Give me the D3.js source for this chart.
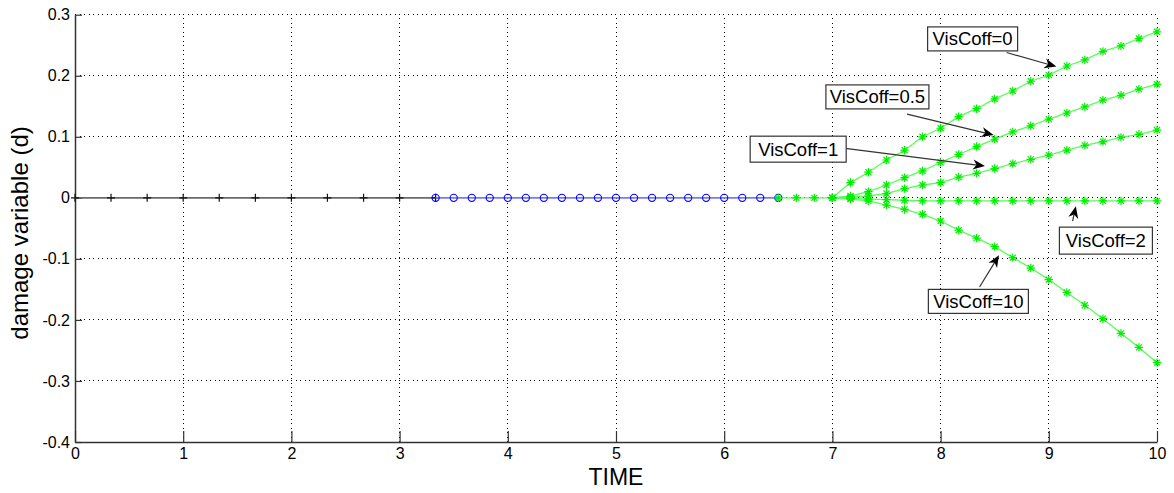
<!DOCTYPE html>
<html>
<head>
<meta charset="utf-8">
<script src="https://cdn.jsdelivr.net/npm/d3@7/dist/d3.min.js"></script>
<style>
  html, body { margin: 0; padding: 0; background: #fff; }
  svg { display: block; font-family: "Liberation Sans", Arial, Helvetica, sans-serif; }
</style>
</head>
<body>
<svg id="chart" width="1174" height="493"></svg>
<script>
// ---------- data ----------
const xTicks = [0, 1, 2, 3, 4, 5, 6, 7, 8, 9, 10];
const yTicks = [-0.4, -0.3, -0.2, -0.1, 0, 0.1, 0.2, 0.3];

// initial (black '+') stage
const timeBlack = [0, 0.333, 0.667, 1, 1.333, 1.667, 2, 2.333, 2.667, 3, 3.333];
const dBlack    = [0, 0, 0, 0, 0, 0, 0, 0, 0, 0, 0];

// blue 'o' stage
const timeBlue = [3.333, 3.5, 3.667, 3.833, 4, 4.167, 4.333, 4.5, 4.667, 4.833,
                  5, 5.167, 5.333, 5.5, 5.667, 5.833, 6, 6.167, 6.333, 6.5];
const dBlue    = [0, 0, 0, 0, 0, 0, 0, 0, 0, 0, 0, 0, 0, 0, 0, 0, 0, 0, 0, 0];

// green common trunk
const timeTrunk = [6.5, 6.667, 6.833, 7];
const dTrunk    = [0, 0, 0, 0];

// green branches
const timeBranch = [7, 7.167, 7.333, 7.5, 7.667, 7.833, 8, 8.167, 8.333, 8.5,
                    8.667, 8.833, 9, 9.167, 9.333, 9.5, 9.667, 9.833, 10];
const dVis0   = [0, 0.025, 0.042, 0.062, 0.078, 0.100, 0.114, 0.133, 0.146, 0.162,
                 0.175, 0.191, 0.201, 0.216, 0.226, 0.240, 0.249, 0.261, 0.272];
const dVis05  = [0, 0.003, 0.010, 0.021, 0.033, 0.044, 0.058, 0.071, 0.084, 0.096,
                 0.108, 0.118, 0.129, 0.139, 0.149, 0.160, 0.168, 0.178, 0.186];
const dVis1   = [0, 0.001, 0.003, 0.007, 0.015, 0.021, 0.025, 0.034, 0.040, 0.048,
                 0.056, 0.063, 0.070, 0.078, 0.086, 0.092, 0.099, 0.104, 0.111];
const dVis2   = [0, -0.001, -0.002, -0.003, -0.004, -0.005, -0.005, -0.005, -0.005, -0.005,
                 -0.005, -0.005, -0.005, -0.005, -0.005, -0.005, -0.005, -0.005, -0.005];
const dVis10  = [0, -0.002, -0.005, -0.012, -0.019, -0.027, -0.038, -0.053, -0.066, -0.080,
                 -0.098, -0.115, -0.134, -0.155, -0.176, -0.198, -0.222, -0.245, -0.270];

// annotation labels
const annLabels = ["VisCoff=0", "VisCoff=0.5", "VisCoff=1", "VisCoff=2", "VisCoff=10"];

// ---------- layout ----------
const svg = d3.select("#chart");
const x = d3.scaleLinear().domain([0, 10]).range([75, 1157]);
const y = d3.scaleLinear().domain([-0.4, 0.3]).range([442, 14.7]);

// annotation geometry (data units): box left/top, box size px, arrow tail & head
const annGeom = [
  { bx: 7.88, by: 0.280, w: 90,  h: 24, tx: 8.61, ty: 0.238, hx: 9.07, hy: 0.215 },
  { bx: 6.94, by: 0.185, w: 103, h: 24, tx: 7.69, ty: 0.137, hx: 8.49, hy: 0.103 },
  { bx: 6.24, by: 0.101, w: 96,  h: 26, tx: 7.12, ty: 0.081, hx: 8.41, hy: 0.052 },
  { bx: 9.098, by: -0.048, w: 93, h: 27, tx: 9.22, ty: -0.038, hx: 9.25, hy: -0.0136 },
  { bx: 7.887, by: -0.150, w: 100, h: 24, tx: 8.36, ty: -0.146, hx: 8.54, hy: -0.094 }
];

// ---------- grid ----------
const grid = svg.append("g");
grid.selectAll("line.gx").data(xTicks.filter(d => d > 0)).enter().append("line")
  .attr("x1", d => x(d)).attr("x2", d => x(d))
  .attr("y1", y(-0.4)).attr("y2", y(0.3))
  .attr("stroke", "#000").attr("stroke-width", 1).attr("stroke-dasharray", "1,3.5")
  .attr("shape-rendering", "crispEdges");
grid.selectAll("line.gy").data(yTicks.filter(d => d > -0.4)).enter().append("line")
  .attr("x1", x(0)).attr("x2", x(10))
  .attr("y1", d => y(d)).attr("y2", d => y(d))
  .attr("stroke", "#000").attr("stroke-width", 1).attr("stroke-dasharray", "1,3.5")
  .attr("shape-rendering", "crispEdges");

// ---------- axes ----------
const fmt = d => d === 0 ? "0" : String(+d.toFixed(1));
const xAxis = svg.append("g").attr("transform", `translate(0,${y(-0.4)})`)
  .call(d3.axisBottom(x).tickValues(xTicks).tickSizeInner(-11).tickSizeOuter(0).tickPadding(6).tickFormat(fmt));
const yAxis = svg.append("g").attr("transform", `translate(${x(0)},0)`)
  .call(d3.axisLeft(y).tickValues(yTicks).tickSizeInner(-7).tickSizeOuter(0).tickPadding(5).tickFormat(fmt));
[xAxis, yAxis].forEach(a => {
  a.select(".domain").attr("stroke", "#333").attr("stroke-width", 1.5);
  a.selectAll(".tick line").attr("stroke", "#333").attr("stroke-width", 1.2);
  a.selectAll(".tick text").attr("fill", "#000").style("font-size", "16px")
    .style("font-family", '"Liberation Sans", Arial, sans-serif');
});

// axis titles
svg.append("text").attr("x", x(5)).attr("y", 485).attr("text-anchor", "middle")
  .style("font-size", "23px").attr("fill", "#000").text("TIME");
svg.append("text").attr("transform", `translate(28,${233}) rotate(-90)`)
  .attr("text-anchor", "middle").style("font-size", "24px").attr("fill", "#000")
  .text("damage variable (d)");

// ---------- series ----------
const line = d3.line().x(d => x(d[0])).y(d => y(d[1]));
const zip = (a, b) => a.map((v, i) => [v, b[i]]);

// black '+'
const blackPts = zip(timeBlack, dBlack);
svg.append("path").attr("d", line(blackPts)).attr("fill", "none")
  .attr("stroke", "#6a6a6a").attr("stroke-width", 1.8);
svg.selectAll("path.plus").data(blackPts).enter().append("path")
  .attr("d", d => `M${x(d[0]) - 4},${y(d[1])}H${x(d[0]) + 4}M${x(d[0])},${y(d[1]) - 4}V${y(d[1]) + 4}`)
  .attr("stroke", "#111").attr("stroke-width", 1.2);

// blue 'o'
const bluePts = zip(timeBlue, dBlue);
svg.append("path").attr("d", line(bluePts)).attr("fill", "none")
  .attr("stroke", "#7878ff").attr("stroke-width", 1.8);
svg.selectAll("circle.bo").data(bluePts).enter().append("circle")
  .attr("cx", d => x(d[0])).attr("cy", d => y(d[1])).attr("r", 3.6)
  .attr("fill", "none").attr("stroke", "#0000ff").attr("stroke-width", 1.1);

// green '*'
const star = (cx, cy, s) => {
  const a = s * 0.72;
  return `M${cx - s},${cy}H${cx + s}M${cx},${cy - s}V${cy + s}` +
         `M${cx - a},${cy - a}L${cx + a},${cy + a}M${cx - a},${cy + a}L${cx + a},${cy - a}`;
};
const greenSeries = [zip(timeTrunk, dTrunk)].concat(
  [dVis0, dVis05, dVis1, dVis2, dVis10].map(ds => zip(timeBranch, ds)));
greenSeries.forEach(pts => {
  svg.append("path").attr("d", line(pts)).attr("fill", "none")
    .attr("stroke", "#55ff55").attr("stroke-width", 1.3);
});
greenSeries.forEach(pts => {
  svg.append("g").selectAll("path").data(pts).enter().append("path")
    .attr("d", d => star(x(d[0]), y(d[1]), 4.2))
    .attr("stroke", "#00ee00").attr("stroke-width", 1.2).attr("fill", "none");
});

// ---------- annotations ----------
const ann = svg.append("g");
annGeom.forEach((g, i) => {
  const x1 = x(g.tx), y1 = y(g.ty), x2 = x(g.hx), y2 = y(g.hy);
  const ang = Math.atan2(y2 - y1, x2 - x1);
  const L = 12, W = 5, N = 3.5;
  const ux = Math.cos(ang), uy = Math.sin(ang), px = -uy, py = ux;
  const bx = x2 - ux * L, by = y2 - uy * L;
  ann.append("line").attr("x1", x1).attr("y1", y1)
    .attr("x2", x2 - ux * 6).attr("y2", y2 - uy * 6)
    .attr("stroke", "#333").attr("stroke-width", 1.2);
  ann.append("path")
    .attr("d", `M${x2},${y2}L${bx + px * W},${by + py * W}L${x2 - ux * (L - N)},${y2 - uy * (L - N)}L${bx - px * W},${by - py * W}Z`)
    .attr("fill", "#000");
  const left = x(g.bx), top = y(g.by);
  ann.append("rect").attr("x", left).attr("y", top).attr("width", g.w).attr("height", g.h)
    .attr("fill", "#fff").attr("stroke", "#333").attr("stroke-width", 1.2);
  ann.append("text").attr("x", left + g.w / 2).attr("y", top + g.h / 2 + 6.5)
    .attr("text-anchor", "middle").style("font-size", "18.5px").attr("fill", "#000")
    .text(annLabels[i]);
});
</script>
</body>
</html>
